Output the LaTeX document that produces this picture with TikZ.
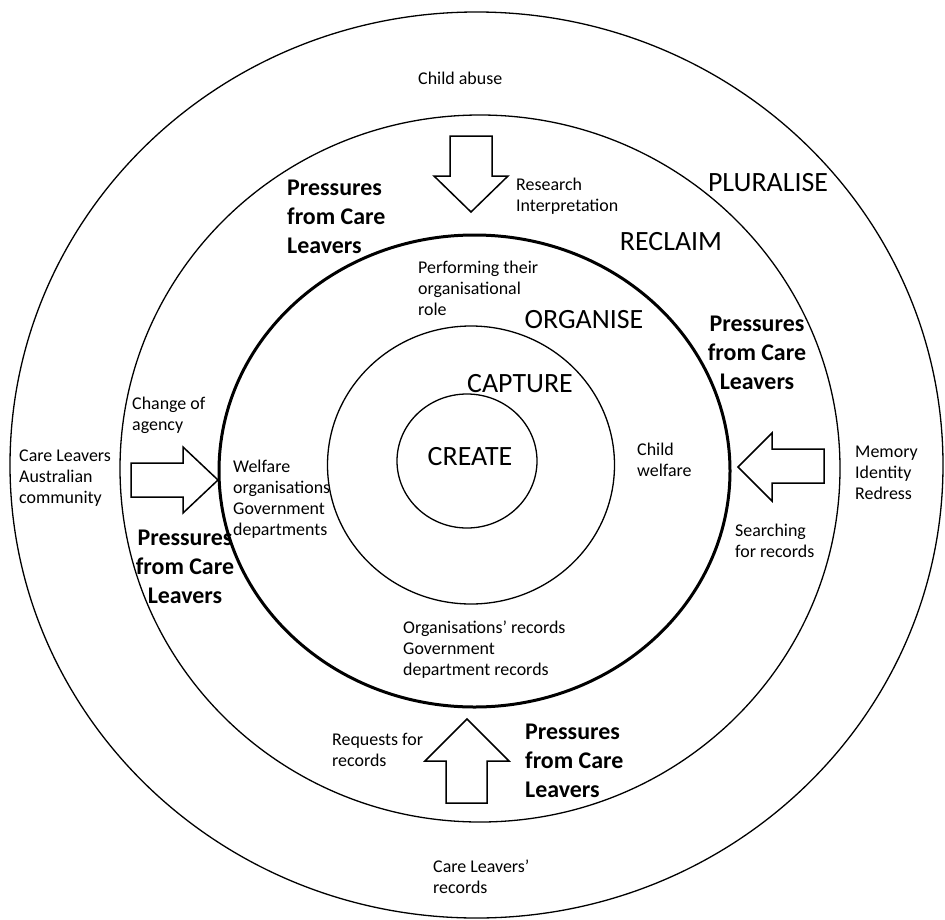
\documentclass[tikz,border=0pt]{standalone}
\usepackage{fontspec}
\setmainfont{Carlito}
\usepackage{tikz}
\usetikzlibrary{positioning,calc}

\tikzset{
    ring/.style={line width=1.3bp},
    mainring/.style={line width=3bp},
    blockarrow/.style={line width=1.5bp, fill=white, line join=miter},
    lbl/.style={font=\fontsize{18}{21}\selectfont, align=left, inner sep=0pt, anchor=base west},
    stage/.style={font=\fontsize{28}{32}\selectfont, inner sep=0pt},
    pressure/.style={font=\fontsize{24}{29}\selectfont\bfseries, inner sep=0pt}
}

\begin{document}
\begin{tikzpicture}[x=1bp, y=-1bp]
    \useasboundingbox (0,0) rectangle (945,920);

    % Rings
    \draw[ring] (476.5,465) ellipse [x radius=466.5, y radius=453];
    \draw[ring] (480,468.5) ellipse [x radius=360, y radius=353.5];
    \draw[mainring] (474.5,471) ellipse [x radius=255.5, y radius=236];
    \draw[ring] (471,465) ellipse [x radius=143.5, y radius=139];
    \draw[ring] (467,461) ellipse [x radius=70, y radius=67];

    % Arrows
    \draw[blockarrow] (450,136) -- (492,136) -- (492,176) -- (508,176) -- (471,212) -- (434,176) -- (450,176) -- cycle;
    \draw[blockarrow] (131,463) -- (183,463) -- (183,447) -- (218,480) -- (183,513) -- (183,497) -- (131,497) -- cycle;
    \draw[blockarrow] (824,449) -- (772,449) -- (772,433) -- (738,467) -- (772,501) -- (772,483) -- (824,483) -- cycle;
    \draw[blockarrow] (446,803) -- (446,761) -- (425,761) -- (467,719) -- (509,761) -- (487,761) -- (487,803) -- cycle;

    % Stage names
    \node[stage] (pluralise) at (768,183) {PLURALISE};
    \node[stage] (reclaim) at (671,242) {RECLAIM};
    \node[stage] (organise) at (584,320) {ORGANISE};
    \node[stage] (capture) at (520,384) {CAPTURE};
    \node[stage] (create) at (470,457) {CREATE};

    % Pressures (base = last line)
    \node[pressure, align=left, anchor=base west] (presstop) at (287,253) {Pressures\\from Care\\Leavers};
    \node[pressure, align=center, anchor=base] (pressright) at (757,389) {Pressures\\from Care\\Leavers};
    \node[pressure, align=center, anchor=base] (pressleft) at (185,603) {Pressures\\from Care\\Leavers};
    \node[pressure, align=left, anchor=base west] (pressbottom) at (525,797) {Pressures\\from Care\\Leavers};

    % Labels (base = last line)
    \node[lbl] (abuse) at (418,84) {Child abuse};
    \node[lbl] (research) at (516,211) {Research\\Interpretation};
    \node[lbl] (role) at (418,315) {Performing their\\organisational\\role};
    \node[lbl] (agency) at (132,430) {Change of\\agency};
    \node[lbl] (community) at (19,503) {Care Leavers\\Australian\\community};
    \node[lbl] (welfareorgs) at (233,535) {Welfare\\organisations\\Government\\departments};
    \node[lbl] (childwelfare) at (637,476) {Child\\welfare};
    \node[lbl] (memory) at (855,499) {Memory\\Identity\\Redress};
    \node[lbl] (searching) at (735,557) {Searching\\for records};
    \node[lbl] (orgrecords) at (403,675) {Organisations’ records\\Government\\department records};
    \node[lbl] (requests) at (332,766) {Requests for\\records};
    \node[lbl] (clrecords) at (433,893) {Care Leavers’\\records};
\end{tikzpicture}
\end{document}
